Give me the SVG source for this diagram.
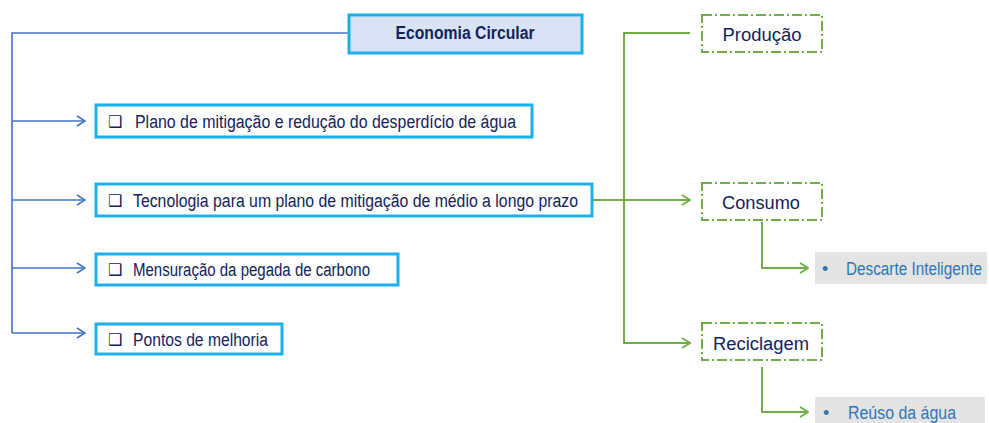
<svg xmlns="http://www.w3.org/2000/svg" width="989" height="423" viewBox="0 0 989 423">
<defs>
<marker id="ab" markerWidth="10" markerHeight="12" refX="9" refY="6" orient="auto" markerUnits="userSpaceOnUse">
<path d="M1,1 L9,6 L1,11" fill="none" stroke="#4472c4" stroke-width="1.6"/>
</marker>
<marker id="ag" markerWidth="10" markerHeight="12" refX="9" refY="6" orient="auto" markerUnits="userSpaceOnUse">
<path d="M1,1 L9,6 L1,11" fill="none" stroke="#70ad47" stroke-width="1.8"/>
</marker>
</defs>
<style>
.bx{fill:#fff;stroke:#1bb0ea;stroke-width:3}
.gb{fill:#fff;stroke:#70ad47;stroke-width:2;stroke-dasharray:10 3 2 3}
.gr{fill:#e4e4e4}
.t{font-family:"Liberation Sans",Arial,sans-serif;font-size:18px;fill:#13235a}
.cb{font-family:"DejaVu Sans",sans-serif;font-size:16px;font-weight:bold;fill:#13235a}
.bl{stroke:#4472c4;stroke-width:1.6;fill:none}
.gl{stroke:#70ad47;stroke-width:2;fill:none}
.lt{font-family:"Liberation Sans",Arial,sans-serif;font-size:18px;fill:#2e75b6}
</style>
<g id="connectors">
<path class="bl" d="M348,33 H12 V333"/>
<path class="bl" d="M12,121 H85" marker-end="url(#ab)"/>
<path class="bl" d="M12,200 H85" marker-end="url(#ab)"/>
<path class="bl" d="M12,268 H85" marker-end="url(#ab)"/>
<path class="bl" d="M12,333 H85" marker-end="url(#ab)"/>
<path class="gl" d="M592,200 H690" marker-end="url(#ag)"/>
<path class="gl" d="M690,33 H624 V343 H690" marker-end="url(#ag)"/>
<path class="gl" d="M762,222 V268 H808" marker-end="url(#ag)"/>
<path class="gl" d="M762,367 V412 H808" marker-end="url(#ag)"/>
</g>
<g id="economia">
<rect x="349" y="15" width="233" height="38" fill="#dae3f3" stroke="#1bb0ea" stroke-width="3"/>
<text class="t" x="465" y="39" text-anchor="middle" font-weight="bold" font-size="17" textLength="139" lengthAdjust="spacingAndGlyphs">Economia Circular</text>
</g>
<g id="plano">
<rect class="bx" x="96" y="105" width="436" height="32"/>
<text class="cb" x="108" y="127">❑</text>
<text class="t" x="135" y="128" textLength="381" lengthAdjust="spacingAndGlyphs">Plano de mitigação e redução do desperdício de água</text>
</g>
<g id="tecnologia">
<rect class="bx" x="96" y="184" width="496" height="32"/>
<text class="cb" x="108" y="206">❑</text>
<text class="t" x="133" y="207" textLength="445" lengthAdjust="spacingAndGlyphs">Tecnologia para um plano de mitigação de médio a longo prazo</text>
</g>
<g id="mensuracao">
<rect class="bx" x="96" y="254" width="302" height="31"/>
<text class="cb" x="108" y="275">❑</text>
<text class="t" x="133" y="276" textLength="237" lengthAdjust="spacingAndGlyphs">Mensuração da pegada de carbono</text>
</g>
<g id="pontos">
<rect class="bx" x="96" y="324" width="186" height="30"/>
<text class="cb" x="108" y="345">❑</text>
<text class="t" x="133" y="346" textLength="135" lengthAdjust="spacingAndGlyphs">Pontos de melhoria</text>
</g>
<g id="producao">
<rect class="gb" x="702" y="15" width="120" height="37"/>
<text class="t" x="762" y="41" text-anchor="middle" font-size="21" textLength="79" lengthAdjust="spacingAndGlyphs">Produção</text>
</g>
<g id="consumo">
<rect class="gb" x="702" y="183" width="120" height="37"/>
<text class="t" x="761" y="209" text-anchor="middle" font-size="21" textLength="78" lengthAdjust="spacingAndGlyphs">Consumo</text>
</g>
<g id="reciclagem">
<rect class="gb" x="702" y="323" width="120" height="37"/>
<text class="t" x="761" y="350" text-anchor="middle" font-size="21" textLength="96" lengthAdjust="spacingAndGlyphs">Reciclagem</text>
</g>
<g id="descarte">
<rect class="gr" x="815" y="252" width="172" height="32"/>
<text class="lt" x="822" y="275">•</text>
<text class="lt" x="846" y="275" textLength="136" lengthAdjust="spacingAndGlyphs">Descarte Inteligente</text>
</g>
<g id="reuso">
<rect class="gr" x="815" y="397" width="170" height="26"/>
<text class="lt" x="823" y="419">•</text>
<text class="lt" x="848" y="419" textLength="108" lengthAdjust="spacingAndGlyphs">Reúso da água</text>
</g>
</svg>
